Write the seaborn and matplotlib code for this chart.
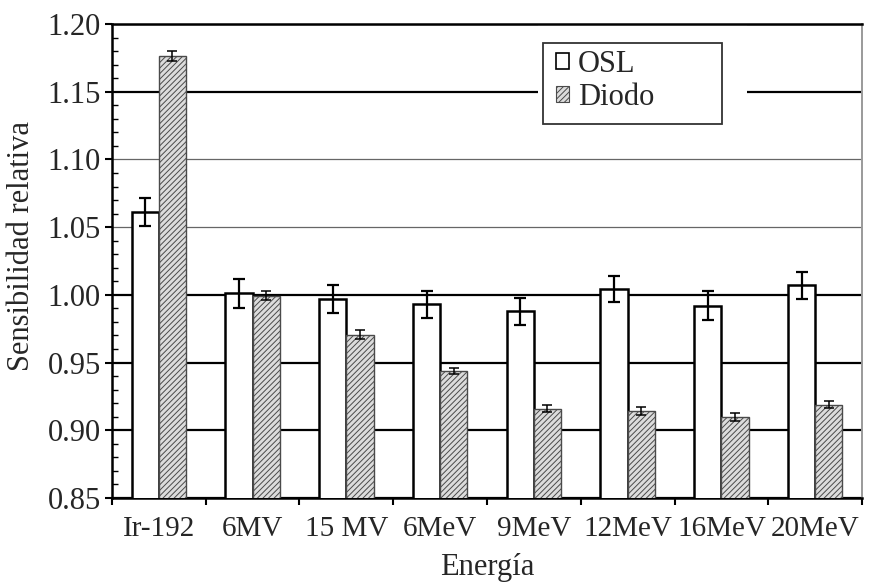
import matplotlib
matplotlib.use("Agg")
import matplotlib.pyplot as plt
from matplotlib.patches import Patch, Rectangle
from matplotlib.ticker import MultipleLocator, FixedLocator, NullFormatter
import pandas as pd
import seaborn as sns

# Relative sensitivity per beam energy, OSL dosimeter vs. diode
energias = ["Ir-192", "6MV", "15 MV", "6MeV", "9MeV", "12MeV", "16MeV", "20MeV"]
osl = [1.061, 1.001, 0.997, 0.993, 0.988, 1.004, 0.992, 1.007]
osl_err = [0.0103, 0.0104, 0.0105, 0.010, 0.010, 0.0096, 0.0105, 0.010]
diodo = [1.1765, 0.9995, 0.9705, 0.944, 0.916, 0.914, 0.910, 0.919]
diodo_err = [0.0035, 0.003, 0.0033, 0.0022, 0.0027, 0.003, 0.003, 0.0025]
series = ["OSL", "Diodo"]
y_ticks = [0.85, 0.90, 0.95, 1.00, 1.05, 1.10, 1.15, 1.20]

df = pd.DataFrame({
    "Energía": energias * 2,
    "Detector": [series[0]] * len(energias) + [series[1]] * len(energias),
    "Sensibilidad": osl + diodo,
})
errs = {series[0]: osl_err, series[1]: diodo_err}

sns.set_theme(style="white")
plt.rcParams["font.family"] = ["Liberation Serif", "DejaVu Serif"]
plt.rcParams["hatch.linewidth"] = 0.7

fig, ax = plt.subplots(figsize=(8.79, 5.84), dpi=100)
fig.subplots_adjust(left=0.1274, right=0.9807, bottom=0.1473, top=0.9589)

sns.barplot(data=df, x="Energía", y="Sensibilidad", hue="Detector",
            palette={series[0]: "white", series[1]: "#dcdcdc"},
            width=0.58, gap=0, errorbar=None, legend=False, ax=ax, zorder=3)

# bar styling + error bars from each bar's own geometry
for cont, name in zip(ax.containers, series):
    xs, ys = [], []
    for p in cont.patches:
        if name == "OSL":
            p.set_edgecolor("black")
            p.set_linewidth(1.8)
        else:
            p.set_edgecolor("#4a4a4a")
            p.set_linewidth(1.0)
            p.set_hatch("//////")
        xs.append(p.get_x() + p.get_width() / 2)
        ys.append(p.get_height())
    ax.errorbar(xs, ys, yerr=errs[name], fmt="none", ecolor="black",
                elinewidth=1.6 if name == "OSL" else 1.1,
                capsize=4.5 if name == "OSL" else 3.5,
                capthick=1.6 if name == "OSL" else 1.1, zorder=4)

ax.set_ylim(y_ticks[0], y_ticks[-1])
ax.set_xlim(-0.5, len(energias) - 0.5)

# y axis: major ticks outward, minor ticks inward
ax.yaxis.set_major_locator(FixedLocator(y_ticks))
ax.yaxis.set_minor_locator(MultipleLocator(0.01))
ax.set_yticklabels([f"{v:.2f}" for v in y_ticks])
ax.tick_params(axis="y", which="major", direction="out", length=5, width=1.5,
               color="black", labelsize=22, pad=3, left=True)
ax.tick_params(axis="y", which="minor", direction="in", length=4, width=1.0,
               color="black", left=True)

# x axis: labels centred, tick marks between groups
ax.xaxis.set_minor_locator(FixedLocator([i - 0.5 for i in range(len(energias) + 1)]))
ax.xaxis.set_minor_formatter(NullFormatter())
ax.tick_params(axis="x", which="major", length=0, labelsize=21, pad=13)
ax.tick_params(axis="x", which="minor", direction="out", length=5, width=1.5,
               color="black", bottom=True)

# horizontal grid: heavy lines at 1.15, 1.00, 0.95, 0.90, light at 1.10, 1.05
ax.yaxis.grid(True, which="major")
ax.set_axisbelow(True)
for val, gl in zip(y_ticks, ax.get_ygridlines()):
    if round(val, 2) in (1.05, 1.10):
        gl.set_color("#666666")
        gl.set_linewidth(0.9)
    else:
        gl.set_color("black")
        gl.set_linewidth(1.6)

for side in ("left", "bottom", "top"):
    ax.spines[side].set_color("black")
    ax.spines[side].set_linewidth(1.8)
ax.spines["right"].set_color("#9a9a9a")
ax.spines["right"].set_linewidth(1.4)

ax.set_xlabel("Energía", fontsize=22, labelpad=8)
ax.set_ylabel("Sensibilidad relativa", fontsize=22)
ax.yaxis.set_label_coords(-0.101, 0.532)

# legend panel
ax.add_patch(Rectangle((0.5680, 0.76), 0.2787, 0.24, transform=ax.transAxes,
                       facecolor="white", edgecolor="none", zorder=2.5))
ax.add_patch(Rectangle((0.5747, 0.7889), 0.2387, 0.1709, transform=ax.transAxes,
                       facecolor="white", edgecolor="#333333", linewidth=1.3,
                       zorder=5))
handles = [Patch(facecolor="white", edgecolor="black", linewidth=1.2),
           Patch(facecolor="#dcdcdc", edgecolor="#4a4a4a", linewidth=0.8,
                 hatch="//////")]
leg = ax.legend(handles, series, loc="upper left", bbox_to_anchor=(0.592, 0.945),
                frameon=False, fontsize=22, handlelength=0.42, handleheight=0.42,
                handletextpad=0.3, labelspacing=0.12, borderpad=0.0,
                borderaxespad=0)
leg.set_zorder(6)

fig.savefig("out.png", dpi=100)
